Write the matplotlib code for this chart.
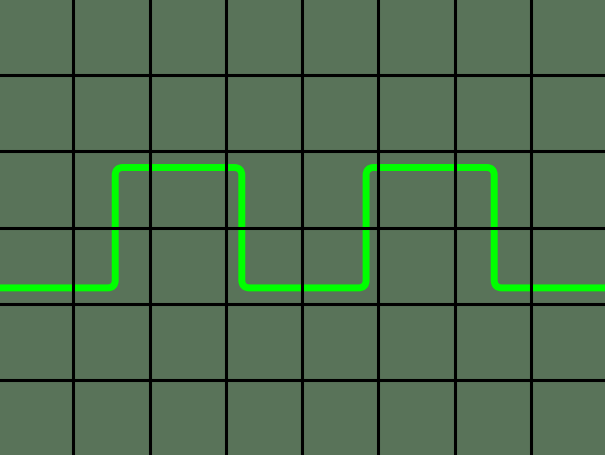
import numpy as np
import matplotlib
matplotlib.use('Agg')
from matplotlib import pyplot as plt
from matplotlib.path import Path
from matplotlib.patches import PathPatch

# square wave, in screen divisions
edge_times = [1.55, 3.21, 4.84, 6.52]   # rising, falling, rising, falling
low_level = 2.21
high_level = 3.79
x_start, x_end = 0.0, 8.0

x_divs = list(range(1, 8))
y_divs = list(range(1, 6))

bg = '#597359'
trace = '#00ff00'
corner = 0.1   # fillet radius in divisions

# corner points of the trace
pts = [(x_start, low_level)]
level = low_level
for t in edge_times:
    pts.append((t, level))
    level = high_level if level == low_level else low_level
    pts.append((t, level))
pts.append((x_end, level))
pts = np.array(pts)

verts = [pts[0]]
codes = [Path.MOVETO]
for i in range(1, len(pts) - 1):
    a, p, b = pts[i - 1], pts[i], pts[i + 1]
    p1 = p + corner * (a - p) / np.linalg.norm(a - p)
    p2 = p + corner * (b - p) / np.linalg.norm(b - p)
    verts += [p1, p, p2]
    codes += [Path.LINETO, Path.CURVE3, Path.CURVE3]
verts.append(pts[-1])
codes.append(Path.LINETO)

fig = plt.figure(figsize=(6.05, 4.55), dpi=100)
ax = fig.add_axes([0, 0, 1, 1])
ax.set_facecolor(bg)
fig.patch.set_facecolor(bg)

ax.add_patch(PathPatch(Path(verts, codes), facecolor='none', edgecolor=trace,
                       lw=5, joinstyle='round', capstyle='butt', zorder=1))

ax.set_xlim(0.039, 7.973)
ax.set_ylim(0.017, 5.988)
ax.set_xticks(x_divs)
ax.set_yticks(y_divs)
ax.grid(True, color='black', lw=2.2, zorder=3)
ax.set_axisbelow(False)
ax.tick_params(length=0, labelbottom=False, labelleft=False)
for s in ax.spines.values():
    s.set_visible(False)

fig.savefig('out.png', dpi=100, facecolor=bg)
